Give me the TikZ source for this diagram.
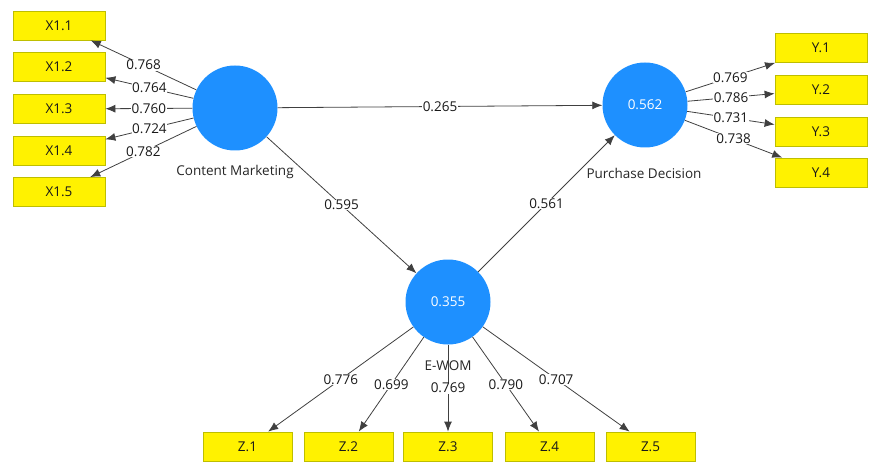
\documentclass[tikz,border=0pt]{standalone}
\usepackage{fontspec}
\setmainfont{Open Sans}
\usetikzlibrary{arrows.meta}
\definecolor{lvblue}{RGB}{30,144,255}
\definecolor{boxedge}{RGB}{190,190,0}
\begin{document}
\begin{tikzpicture}[x=1pt,y=-1pt, font=\fontsize{13.5}{15}\selectfont,
 latent/.style={circle, fill=lvblue, minimum size=85pt, inner sep=0pt, text=white},
 ind/.style={rectangle, fill=yellow, draw=boxedge, line width=0.8pt, minimum width=92pt, minimum height=29pt, inner sep=0pt, text=black!90},
 indz/.style={ind, minimum width=89pt},
 arr/.style={draw=black!75, line width=0.8pt, -{Latex[length=10pt,width=8pt]}},
 coef/.style={fill=white, inner sep=0.5pt, pos=0.5, text=black!90},
 lvname/.style={text=black!85}
]
\useasboundingbox (0,0) rectangle (869,462);
% latent variables
\node[latent] (cm) at (235,108) {};
\node[latent] (pd) at (645,105) {0.562};
\node[latent] (ew) at (448,302) {0.355};
\node[lvname] (cml) at (235,172) {Content Marketing};
\node[lvname] (pdl) at (644,173) {Purchase Decision};
\node[lvname] (ewl) at (448,366) {E-WOM};
% indicators
\node[ind] (x1) at (59,25.5) {X1.1};
\node[ind] (x2) at (59,67) {X1.2};
\node[ind] (x3) at (59,109) {X1.3};
\node[ind] (x4) at (59,150.5) {X1.4};
\node[ind] (x5) at (59,192) {X1.5};
\node[ind] (y1) at (821,48) {Y.1};
\node[ind] (y2) at (821,89.5) {Y.2};
\node[ind] (y3) at (821,131.5) {Y.3};
\node[ind] (y4) at (821,172.5) {Y.4};
\node[indz] (z1) at (247.5,446.5) {Z.1};
\node[indz] (z2) at (348.5,446.5) {Z.2};
\node[indz] (z3) at (448,446.5) {Z.3};
\node[indz] (z4) at (549.5,446.5) {Z.4};
\node[indz] (z5) at (650.5,446.5) {Z.5};
% loadings
\draw[arr] (cm) -- node[coef]{0.768} (x1);
\draw[arr] (cm) -- node[coef]{0.764} (x2);
\draw[arr] (cm) -- node[coef]{0.760} (x3);
\draw[arr] (cm) -- node[coef]{0.724} (x4);
\draw[arr] (cm) -- node[coef]{0.782} (x5);
\draw[arr] (pd) -- node[coef]{0.769} (y1);
\draw[arr] (pd) -- node[coef]{0.786} (y2);
\draw[arr] (pd) -- node[coef]{0.731} (y3);
\draw[arr] (pd) -- node[coef]{0.738} (y4);
\draw[arr] (ew) -- node[coef]{0.776} (z1);
\draw[arr] (ew) -- node[coef]{0.699} (z2);
\draw[arr] (ew) -- node[coef]{0.769} (z3);
\draw[arr] (ew) -- node[coef]{0.790} (z4);
\draw[arr] (ew) -- node[coef]{0.707} (z5);
% structural paths
\draw[arr] (cm) -- node[coef]{0.265} (pd);
\draw[arr] (cm) -- node[coef]{0.595} (ew);
\draw[arr] (ew) -- node[coef]{0.561} (pd);
\end{tikzpicture}
\end{document}
